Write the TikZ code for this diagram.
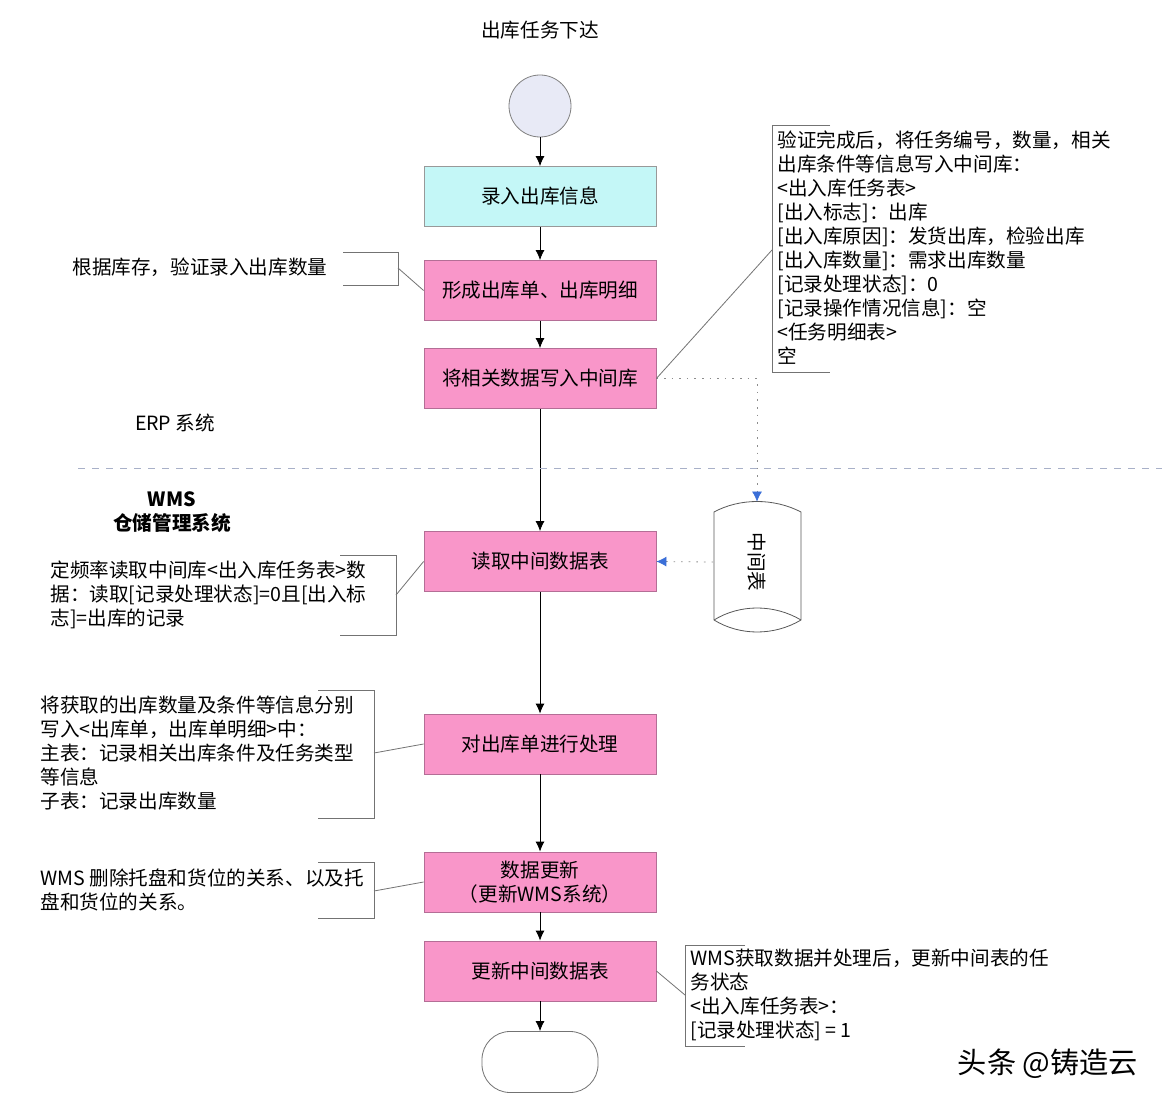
\documentclass[tikz,border=0pt]{standalone}
\usepackage{fontspec}
\setmainfont{Noto Sans CJK SC}
\usetikzlibrary{arrows.meta}
\definecolor{boxpink}{HTML}{F996C9}
\definecolor{edgepink}{HTML}{B46E96}
\definecolor{boxcyan}{HTML}{C4F7F7}
\definecolor{startfill}{HTML}{E8EAF6}
\definecolor{sepblue}{HTML}{A8B0C8}
\definecolor{tipblue}{HTML}{3A6FD8}
\begin{document}
\begin{tikzpicture}[x=.5pt,y=-.5pt,>={Latex[length=5pt,width=4.5pt]},
  font=\fontsize{9.8pt}{12pt}\selectfont,
  flow/.style={draw=edgepink,fill=boxpink,minimum width=116pt,minimum height=30pt,align=center,inner sep=0},
  note/.style={draw=black!55,line width=.4pt},
  txt/.style={anchor=north west,align=left,inner sep=0},
  dotline/.style={draw=black!45,dash pattern=on .8pt off 3pt,-{Latex[length=5pt,width=5pt,color=tipblue]}}]
\useasboundingbox[fill=white] (0,0) rectangle (1166,1106);

\node (title) at (540,30) {出库任务下达};
\node[circle,draw=black!50,fill=startfill,minimum size=31pt,inner sep=0] (start) at (540,106) {};
\node[flow,draw=black!40,fill=boxcyan] (enter) at (540,196.5) {录入出库信息};
\node[flow] (form) at (540,290.5) {形成出库单、出库明细};
\node[flow] (write) at (540,378.5) {将相关数据写入中间库};
\node[flow] (read) at (540,561.5) {读取中间数据表};
\node[flow] (proc) at (540,744) {对出库单进行处理};
\node[flow] (upd) at (540,882) {数据更新\\（更新WMS系统）};
\node[flow] (updmid) at (540,971) {更新中间数据表};
\node[draw=black!55,rounded corners=14pt,minimum width=58pt,minimum height=30.5pt] (stop) at (540,1062) {};

\foreach \a/\b in {start/enter,enter/form,form/write,write/read,read/proc,proc/upd,upd/updmid,updmid/stop}
  \draw[->] (\a) -- (\b);

\draw[sepblue,dash pattern=on 3.5pt off 3.5pt] (78,468) -- (1162,468);
\node (erp) at (175,423) {ERP 系统};
\node[align=center,font=\fontsize{9.8pt}{12pt}\selectfont\bfseries] (wms) at (172,512) {WMS\\仓储管理系统};

% middle table
\draw[black!65] (714,512) .. controls (740,498) and (774,498) .. (801,512) -- (801,620)
  .. controls (774,636) and (740,636) .. (714,620) -- cycle;
\draw[black!65] (714,620) .. controls (740,604) and (774,604) .. (801,620);
\node[minimum width=43.5pt,minimum height=60pt,inner sep=0] (mid) at (757,562) {\rotatebox{-90}{中间表}};
\draw[dotline] (write.east) -| (mid.north);
\draw[dotline] (mid.west) -- (read.east);

% notes
\node[anchor=west,inner sep=0] (n1) at (72,267) {根据库存，验证录入出库数量};
\draw[note] (343,252) -- (398,252) -- (398,285) -- (343,285);
\coordinate (c1) at (398,268);
\draw[note] (c1) -- (form.west);

\node[txt] (n2) at (777,130) {验证完成后，将任务编号，数量，相关\\出库条件等信息写入中间库：\\<出入库任务表>\\{}[出入标志]：出库\\{}[出入库原因]：发货出库，检验出库\\{}[出入库数量]：需求出库数量\\{}[记录处理状态]：0\\{}[记录操作情况信息]：空\\<任务明细表>\\空};
\draw[note] (830,125) -- (772,125) -- (772,372) -- (830,372);
\coordinate (c2) at (772,250);
\draw[note] (c2) -- (write.east);

\node[txt] (n3) at (50,560) {定频率读取中间库<出入库任务表>数\\据：读取[记录处理状态]=0且[出入标\\志]=出库的记录};
\draw[note] (340,555) -- (396,555) -- (396,635) -- (340,635);
\coordinate (c3) at (396,595);
\draw[note] (c3) -- (read.west);

\node[txt] (n4) at (40,695) {将获取的出库数量及条件等信息分别\\写入<出库单，出库单明细>中：\\主表：记录相关出库条件及任务类型\\等信息\\子表：记录出库数量};
\draw[note] (318,690) -- (374,690) -- (374,818) -- (318,818);
\coordinate (c4) at (374,753);
\draw[note] (c4) -- (proc.west);

\node[txt] (n5) at (40,868) {WMS 删除托盘和货位的关系、以及托\\盘和货位的关系。};
\draw[note] (318,862) -- (374,862) -- (374,918) -- (318,918);
\coordinate (c5) at (374,891);
\draw[note] (c5) -- (upd.west);

\node[txt] (n6) at (690,949) {WMS获取数据并处理后，更新中间表的任\\务状态\\<出入库任务表>：\\{}[记录处理状态]\ =\ 1};
\draw[note] (745,945) -- (685,945) -- (685,1046) -- (745,1046);
\coordinate (c6) at (685,995);
\draw[note] (updmid.east) -- (c6);

\node[font=\fontsize{14.6pt}{16pt}\selectfont] (mark) at (1048,1064) {头条 @铸造云};
\end{tikzpicture}
\end{document}
